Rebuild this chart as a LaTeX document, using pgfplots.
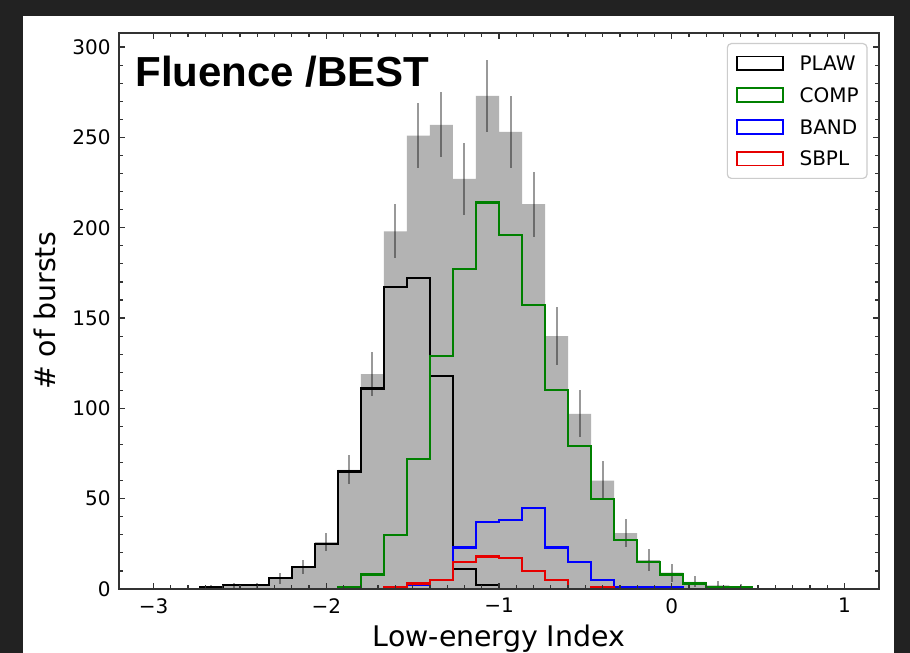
\documentclass[border=0pt]{standalone}
\usepackage{fontspec}
\setmainfont{DejaVu Sans}
\newfontfamily\titlefont{Liberation Sans}
\usepackage{pgfplots}
\pgfplotsset{compat=1.18}
\usepackage{pgfplotstable}

\definecolor{framebg}{RGB}{34,34,34}
\definecolor{histgray}{RGB}{179,179,179}
\definecolor{mplgreen}{RGB}{0,128,0}
\definecolor{mplblue}{RGB}{0,0,255}
\definecolor{mplred}{RGB}{230,0,0}

% bin edges: -3 + k*2/15 ; each table ends on the right edge of its last bin
\pgfplotstableread{
x y
-2.7333 0
-2.7333 1
-2.6000 2
-2.4667 2
-2.3333 6
-2.2000 12
-2.0667 26
-1.9333 66
-1.8000 119
-1.6667 198
-1.5333 251
-1.4000 257
-1.2667 227
-1.1333 273
-1.0000 253
-0.8667 213
-0.7333 140
-0.6000 97
-0.4667 60
-0.3333 31
-0.2000 16
-0.0667 9
0.0667 4
0.2000 2
0.3333 1
0.4667 0
}\totalhist

\pgfplotstableread{
c n e
-2.6667 1 1
-2.5333 2 1.5
-2.4000 2 1.5
-2.2667 6 3
-2.1333 12 3.8
-2.0000 26 4.8
-1.8667 66 8
-1.7333 119 12
-1.6000 198 15
-1.4667 251 18
-1.3333 257 18
-1.2000 227 20
-1.0667 273 20
-0.9333 253 20
-0.8000 213 18
-0.6667 140 16
-0.5333 97 13
-0.4000 60 11
-0.2667 31 8
-0.1333 16 6
0.0000 9 5
0.1333 4 3
0.2667 2 2.5
0.4000 1 1.5
}\totalerr

\pgfplotstableread{
x y
-2.7333 0
-2.7333 1
-2.6000 2
-2.4667 2
-2.3333 6
-2.2000 12
-2.0667 25
-1.9333 65
-1.8000 111
-1.6667 167
-1.5333 172
-1.4000 118
-1.2667 11
-1.1333 2
-1.0000 0
}\plaw

\pgfplotstableread{
x y
-1.9333 0
-1.9333 1
-1.8000 8
-1.6667 30
-1.5333 72
-1.4000 129
-1.2667 177
-1.1333 214
-1.0000 196
-0.8667 157
-0.7333 110
-0.6000 79
-0.4667 50
-0.3333 27
-0.2000 15
-0.0667 8
0.0667 3
0.2000 1
0.3333 1
0.4667 0
}\comp

\pgfplotstableread{
x y
-1.5333 0
-1.5333 2
-1.4000 5
-1.2667 23
-1.1333 37
-1.0000 38
-0.8667 45
-0.7333 23
-0.6000 15
-0.4667 5
-0.3333 1
-0.2000 1
-0.0667 1
0.0667 0
}\band

\pgfplotstableread{
x y
-1.6667 0
-1.6667 1
-1.5333 3
-1.4000 5
-1.2667 15
-1.1333 18
-1.0000 17
-0.8667 10
-0.7333 5
-0.6000 0
-0.4667 1
-0.3333 0
}\sbpl

\begin{document}
\begin{tikzpicture}
\useasboundingbox (0,0) rectangle (455pt,326.5pt);
\fill[framebg] (0,0) rectangle (455pt,326.5pt);
\fill[white] (11.5pt,0) rectangle (447pt,318.5pt);
\clip (0,0) rectangle (455pt,326.5pt);
\begin{axis}[
  at={(59.5pt,32pt)}, anchor=south west,
  scale only axis, width=380pt, height=278pt,
  xmin=-3.2, xmax=1.2, ymin=0, ymax=307.8,
  axis on top,
  axis line style={draw=black!80, line width=0.6pt},
  tick style={draw=black!80, line width=0.6pt},
  tick align=inside,
  major tick length=3.2pt, minor tick length=1.8pt,
  xtick={-3,-2,-1,0,1},
  xticklabels={−3,−2,−1,0,1},
  minor x tick num=9,
  ytick={0,50,100,150,200,250,300},
  yticklabels={0,50,100,150,200,250,300},
  minor y tick num=4,
  tick label style={font=\fontsize{10}{12}\selectfont, inner sep=0pt},
  xticklabel style={anchor=north, yshift=-4.5pt},
  yticklabel style={anchor=east, xshift=-4pt},
  xlabel={Low-energy Index},
  ylabel={\# of bursts},
  every axis x label/.style={at={(axis description cs:0.5,-0.1038)}, anchor=base,
    font=\fontsize{14.2}{17}\selectfont},
  every axis y label/.style={at={(axis description cs:-0.0829,0.5)}, rotate=90, anchor=base,
    font=\fontsize{14.2}{17}\selectfont},
  legend image code/.code={\draw[#1, line width=0.9pt, sharp corners] (0pt,-3.4pt) rectangle (23pt,3.4pt);},
  legend style={
    at={(rel axis cs:1,1)}, anchor=north east, xshift=-5.7pt, yshift=-5pt,
    draw=black!20, line width=0.6pt, rounded corners=2pt,
    font=\fontsize{10}{12}\selectfont,
    inner xsep=4.2pt, inner ysep=6pt, row sep=8.2pt,
    nodes={inner sep=0pt, text height=7.3pt, text depth=0pt},
    /tikz/every odd column/.append style={column sep=8pt},
  },
  legend cell align=left,
]
% total distribution
\addplot[const plot, fill=histgray, draw=none, forget plot] table {\totalhist} \closedcycle;
\addplot[draw=none, mark=none, forget plot,
  error bars/.cd, y dir=both, y explicit, error mark=none,
  error bar style={draw=black, line width=1pt, opacity=0.4}]
  table[x=c, y=n, y error=e] {\totalerr};
% best-fit model classes
\addplot[const plot, draw=black, line width=1.1pt] table {\plaw};
\addplot[const plot, draw=mplgreen, line width=1.1pt] table {\comp};
\addplot[const plot, draw=mplblue, line width=1.1pt] table {\band};
\addplot[const plot, draw=mplred, line width=1.1pt] table {\sbpl};
\legend{PLAW,COMP,BAND,SBPL}
\node[anchor=base west, font=\titlefont\bfseries\fontsize{21}{25}\selectfont]
  at (rel axis cs:0.0125,0.9034) {Fluence /BEST};
\end{axis}
\end{tikzpicture}
\end{document}
